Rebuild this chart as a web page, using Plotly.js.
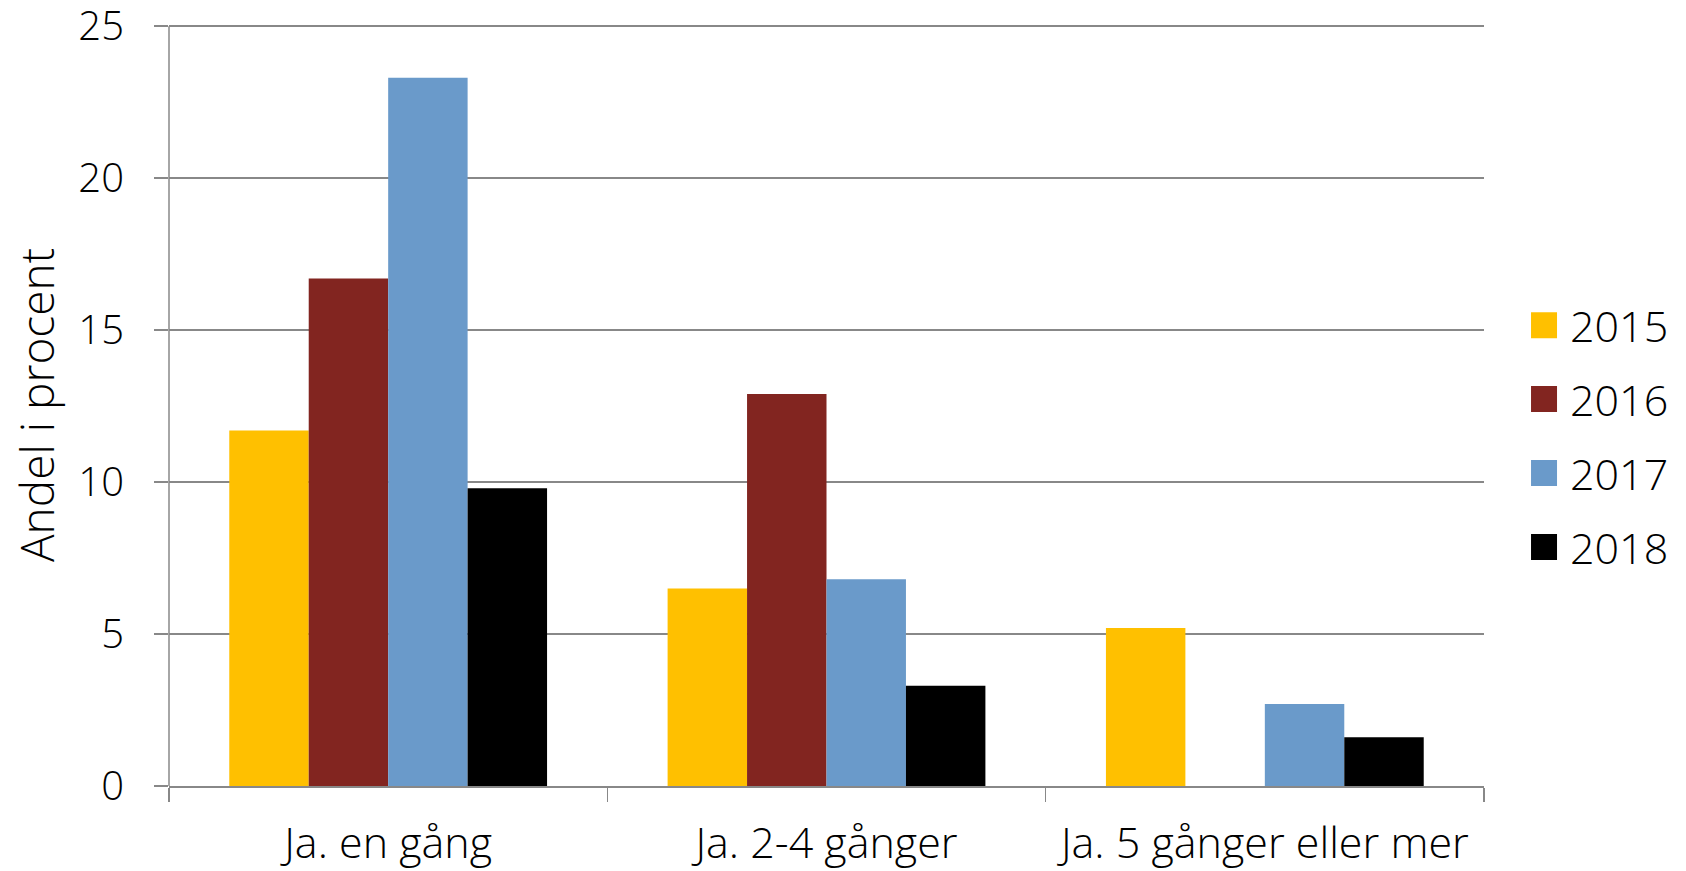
<!DOCTYPE html>
<html>
<head>
<meta charset="utf-8">
<script src="https://cdn.plot.ly/plotly-3.0.1.min.js"></script>
<style>html,body{margin:0;padding:0;background:#fff;}#chart{width:1686px;height:871px;}</style>
</head>
<body>
<div id="chart"></div>
<script>
const categories = ["Ja. en gång", "Ja. 2-4 gånger", "Ja. 5 gånger eller mer"];
const years = ["2015", "2016", "2017", "2018"];
const values2015 = [11.7, 6.5, 5.2];
const values2016 = [16.7, 12.9, 0];
const values2017 = [23.3, 6.8, 2.7];
const values2018 = [9.8, 3.3, 1.6];
const yTicks = [0, 5, 10, 15, 20, 25];

const seriesValues = [values2015, values2016, values2017, values2018];
const colors = ["#FFC000", "#822520", "#6A9ACA", "#000000"];
const FONT = "'Open Sans', sans-serif";

const traces = [];
seriesValues.forEach((vals, i) => {
  traces.push({
    type: "bar", x: categories, y: vals, name: years[i],
    marker: {color: colors[i], line: {width: 0}},
    showlegend: false, hoverinfo: "x+y+name"
  });
});
// legend entries
years.forEach((yr, i) => {
  traces.push({
    type: "scatter", mode: "markers", x: [null], y: [null], name: yr,
    legendgroup: "g" + i,
    marker: {symbol: "square", size: 16, color: colors[i]},
    hoverinfo: "skip"
  });
});

const yMax = yTicks[yTicks.length - 1];

const layout = {
  width: 1686, height: 871,
  margin: {l: 169, r: 200, t: 24, b: 85},
  paper_bgcolor: "#fff", plot_bgcolor: "#fff",
  font: {family: FONT, color: "#000"},
  barmode: "group", bargap: 0.275, bargroupgap: 0,
  xaxis: {
    type: "category", tickson: "boundaries",
    ticks: "outside", ticklen: 14, tickwidth: 1.5, tickcolor: "#888",
    showline: true, linecolor: "#888", linewidth: 1.5,
    showgrid: false, zeroline: false,
    tickfont: {family: FONT, size: 43, color: "#000", weight: 300},
    ticklabelstandoff: 19, automargin: false
  },
  yaxis: {
    range: [0, 25.07], tickvals: yTicks, ticktext: yTicks.map(String),
    ticks: "outside", ticklen: 14, tickwidth: 1.5, tickcolor: "#888",
    showline: false,
    showgrid: true, gridcolor: "#888", gridwidth: 1.5,
    zeroline: false,
    tickfont: {family: FONT, size: 40, color: "#000", weight: 300},
    ticklabelstandoff: 22, ticklabeloverflow: "allow", automargin: false,
    title: {text: "Andel i procent", font: {family: FONT, size: 46, color: "#000", weight: 300}, standoff: 9}
  },
  shapes: [{
    type: "line", xref: "x domain", yref: "y",
    x0: 0, x1: 0, y0: yTicks[0], y1: yMax,
    line: {color: "#888", width: 1.5}, layer: "above"
  }],
  legend: {
    x: 1.035, xanchor: "left", y: 0.459, yanchor: "middle",
    font: {family: FONT, size: 43, color: "#000", weight: 300},
    tracegroupgap: 15, itemwidth: 30, bgcolor: "rgba(0,0,0,0)"
  },
  showlegend: true
};

Plotly.newPlot("chart", traces, layout, {displayModeBar: false, staticPlot: true}).then(gd => {
  gd.querySelectorAll(".legend .legendpoints path.scatterpts").forEach(p => {
    const t = p.getAttribute("transform") || "";
    p.setAttribute("transform", t + " translate(-6,0) scale(1.625)");
  });
});
</script>
</body>
</html>
